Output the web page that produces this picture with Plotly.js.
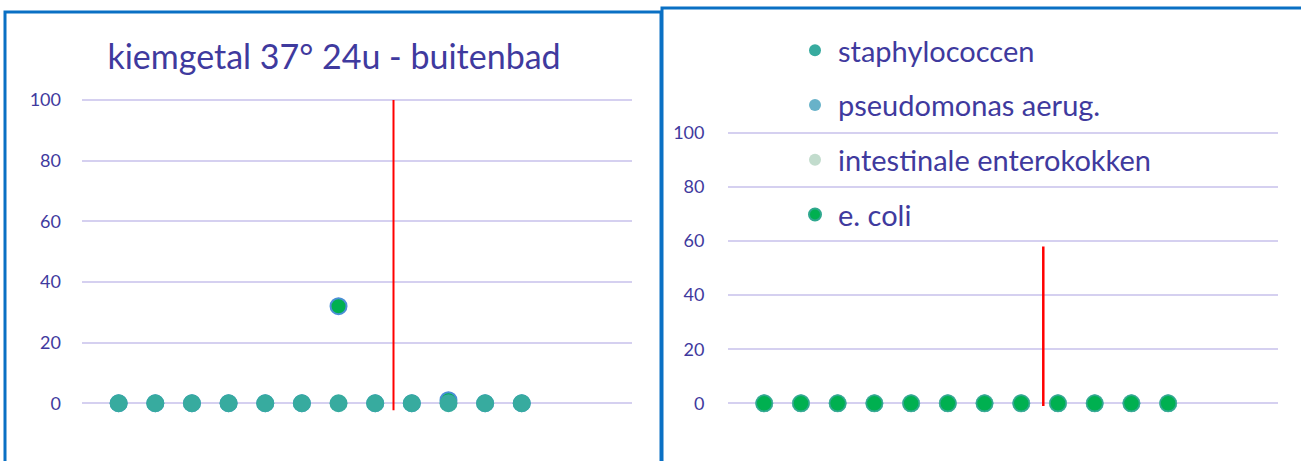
<!DOCTYPE html>
<html>
<head>
<meta charset="utf-8">
<script src="https://cdn.plot.ly/plotly-3.0.1.min.js"></script>
<style>html,body{margin:0;padding:0;background:#fff;}#chart{width:1301px;height:461px;}</style>
</head>
<body>
<div id="chart"></div>
<script>
// ---- data ----
const samples = [1, 2, 3, 4, 5, 6, 7, 8, 9, 10, 11, 12];
const leftTitle = "kiemgetal 37° 24u - buitenbad";
const kiemgetalA = [0, 0, 0, 0, 0, 0, 32, 0, 0, 1, 0, 0];
const kiemgetalB = [0, 0, 0, 0, 0, 0, 0, 0, 0, 0, 0, 0];
const leftLimitX = [8.5, 8.5];
const leftLimitY = [-2.3, 100];

const seriesNames = ["staphylococcen", "pseudomonas aerug.", "intestinale enterokokken", "e. coli"];
const staphylococcen = [0, 0, 0, 0, 0, 0, 0, 0, 0, 0, 0, 0];
const pseudomonas = [0, 0, 0, 0, 0, 0, 0, 0, 0, 0, 0, 0];
const enterokokken = [0, 0, 0, 0, 0, 0, 0, 0, 0, 0, 0, 0];
const ecoli = [0, 0, 0, 0, 0, 0, 0, 0, 0, 0, 0, 0];
const rightLimitX = [8.6, 8.6];
const rightLimitY = [-1, 58];

const yTicks = [0, 20, 40, 60, 80, 100];

// ---- styles ----
const W = 1301, H = 461;
const txt = "#3f3a9e";
const grid = "#d5d0f0";
const teal = "#37ab9f";
const green = "#00b050";
const fontFam = "Lato, 'Open Sans', sans-serif";

const traces = [
  {x: samples, y: kiemgetalA, xaxis: "x", yaxis: "y", mode: "markers", type: "scatter", showlegend: false,
   name: "kiemgetal A", marker: {color: green, size: 16, line: {color: "#4a8fd6", width: 2}}, cliponaxis: false},
  {x: samples, y: kiemgetalB, xaxis: "x", yaxis: "y", mode: "markers", type: "scatter", showlegend: false,
   name: "kiemgetal B", marker: {color: teal, size: 18}, cliponaxis: false},
  {x: leftLimitX, y: leftLimitY, xaxis: "x", yaxis: "y", mode: "lines", type: "scatter", showlegend: false,
   name: "grens", line: {color: "#ff0000", width: 2}, cliponaxis: false},

  {x: samples, y: staphylococcen, xaxis: "x2", yaxis: "y2", mode: "markers", type: "scatter", name: seriesNames[0],
   legendgroup: "a", marker: {color: teal, size: 18}, cliponaxis: false},
  {x: samples, y: pseudomonas, xaxis: "x2", yaxis: "y2", mode: "markers", type: "scatter", name: seriesNames[1],
   legendgroup: "b", marker: {color: "#68b2c9", size: 17}, cliponaxis: false},
  {x: samples, y: enterokokken, xaxis: "x2", yaxis: "y2", mode: "markers", type: "scatter", name: seriesNames[2],
   legendgroup: "c", marker: {color: "#c2dccd", size: 17}, cliponaxis: false},
  {x: samples, y: ecoli, xaxis: "x2", yaxis: "y2", mode: "markers", type: "scatter", name: seriesNames[3],
   legendgroup: "d", marker: {color: green, size: 16, line: {color: "#2fa88e", width: 1.5}}, cliponaxis: false},
  {x: rightLimitX, y: rightLimitY, xaxis: "x2", yaxis: "y2", mode: "lines", type: "scatter", showlegend: false,
   name: "grens", line: {color: "#ff0000", width: 2.5}, cliponaxis: false}
];

function yax(domain) {
  return {
    domain: domain, range: [-15, 105], tickvals: yTicks, ticktext: yTicks.map(String),
    showgrid: true, gridcolor: grid, gridwidth: 2, zeroline: false, showline: false,
    ticks: "", ticklabelstandoff: 20, tickfont: {family: fontFam, size: 18, color: txt}, fixedrange: true
  };
}
function xax(domain, anchor) {
  return {domain: domain, range: [0, 15], showgrid: false, zeroline: false, showline: false,
          showticklabels: false, ticks: "", anchor: anchor, fixedrange: true};
}

const layout = {
  width: W, height: H, autosize: false,
  margin: {l: 0, r: 0, t: 0, b: 0, pad: 0},
  paper_bgcolor: "#ffffff", plot_bgcolor: "rgba(0,0,0,0)",
  font: {family: fontFam, color: txt},
  title: {text: leftTitle, x: 334 / W, xanchor: "center", xref: "paper",
          y: 1 - 57 / H, yanchor: "middle", yref: "paper",
          font: {family: fontFam, size: 34, color: txt}},
  xaxis: xax([82 / W, 631.7 / W], "y"),
  yaxis: yax([1 - 448.75 / H, 1 - 84.85 / H]),
  xaxis2: xax([727.5 / W, 1278.3 / W], "y2"),
  yaxis2: Object.assign(yax([1 - 443.9 / H, 1 - 119.3 / H]), {anchor: "x2", ticklabelstandoff: 22}),
  showlegend: true,
  legend: {x: 792 / W, xanchor: "left", y: 1 - 25 / H, yanchor: "top",
           traceorder: "grouped", tracegroupgap: 14, itemsizing: "constant", itemwidth: 36,
           bgcolor: "rgba(0,0,0,0)", font: {family: fontFam, size: 29, color: txt}},
  shapes: [
    {type: "rect", xref: "paper", yref: "paper", x0: 5 / W, x1: 661 / W, y0: -0.05, y1: 1 - 12 / H,
     line: {color: "#0a70c4", width: 3}, fillcolor: "rgba(0,0,0,0)", layer: "above"},
    {type: "rect", xref: "paper", yref: "paper", x0: 662 / W, x1: 1.02, y0: -0.05, y1: 1 - 8 / H,
     line: {color: "#0a70c4", width: 3}, fillcolor: "rgba(0,0,0,0)", layer: "above"}
  ]
};

Plotly.newPlot("chart", traces, layout, {staticPlot: true, displayModeBar: false});
</script>
</body>
</html>
